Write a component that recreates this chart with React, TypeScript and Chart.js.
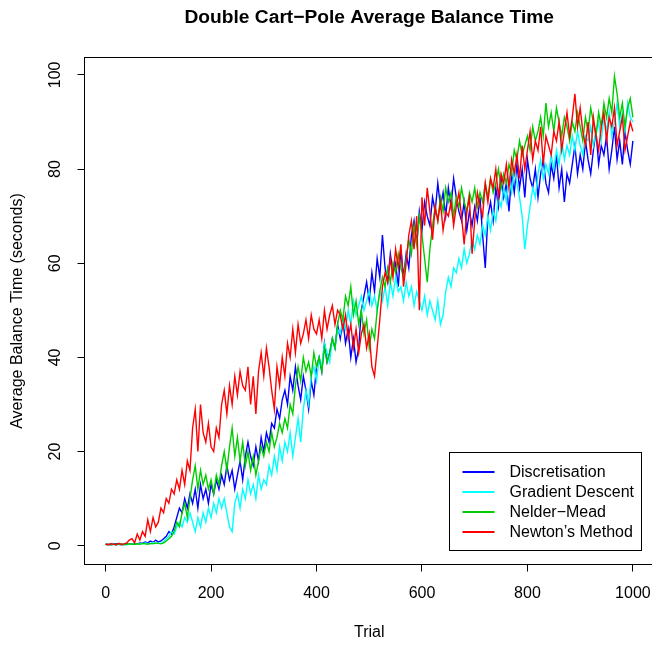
import React, { useEffect, useRef } from "react";
import { Chart, registerables } from "chart.js";

Chart.register(...registerables);

// Trials are sampled every 5 steps: 0, 5, 10, ... 1000
const trialStep = 5;

const discretisation = [
  0.3, 0.3, 0.2, 0.3, 0.4, 0.3, 0.2, 0.3, 0.4, 0.3,
  0.3, 0.5, 0.4, 0.6, 0.5, 0.8, 0.6, 1.0, 0.7, 1.2,
  0.8, 1, 1.5, 2, 3, 2.5, 4, 6, 8, 7,
  10, 8, 11, 9, 12, 8, 13, 10, 12, 9,
  13, 11, 14, 12, 15, 13, 17, 14, 16, 12,
  15, 18, 14, 19, 22, 19, 17, 21, 18, 23,
  20, 24, 22, 26, 25, 29, 27, 31, 33, 30,
  36, 33, 38, 34, 31, 36, 33, 29, 35, 32,
  38, 40, 37, 43, 39, 41, 44, 42, 47, 44,
  48, 43, 46, 40, 44, 39, 42, 50, 53, 56,
  52, 58, 54, 61, 57, 66, 59, 56, 62, 58,
  60, 55, 63, 57, 62, 59, 66, 69, 64, 71,
  67, 73, 70, 68, 74, 71, 77, 72, 75, 70,
  76, 72, 78, 74, 71, 69, 73, 67, 71, 68,
  72, 69, 74, 66, 59, 70, 73, 69, 76, 72,
  78, 74, 77, 71, 79, 75, 81, 76, 80, 74,
  82, 78, 76, 80, 74, 79, 82, 77, 75, 81,
  78, 83, 76, 80, 73, 79, 77, 81, 85, 79,
  83, 80, 86, 82, 79, 84, 88, 81, 85, 83,
  87, 80, 84, 89, 82, 86, 81, 88, 84, 81,
  86,
];

const gradientDescent = [
  0.2, 0.3, 0.2, 0.3, 0.2, 0.3, 0.4, 0.3, 0.2, 0.3,
  0.3, 0.4, 0.3, 0.5, 0.4, 0.6, 0.5, 0.4, 0.7, 0.5,
  0.6, 0.5, 0.8, 1.5, 2, 3, 2.5, 4, 5, 4,
  6, 5, 7, 5, 3, 6, 4, 7, 5, 8,
  6, 9, 7, 10, 8, 10, 7, 4, 3, 9,
  11, 8, 12, 10, 14, 11, 13, 10, 15, 12,
  14, 13, 17, 15, 19, 16, 21, 18, 22, 20,
  24, 19, 23, 27, 22, 29, 33, 30, 36, 38,
  35, 40, 38, 43, 41, 39, 44, 42, 46, 45,
  48, 46, 50, 47, 52, 49, 51, 53, 50, 52,
  54, 51, 53, 50, 54, 52, 55, 51, 56, 53,
  57, 54, 55, 52, 56, 53, 55, 51, 54, 52,
  50, 53, 49, 52, 50, 48, 52, 47, 49, 54,
  57, 55, 59, 58, 61, 59, 63, 60, 62, 65,
  63, 66, 64, 68, 66, 70, 67, 71, 69, 74,
  72, 76, 73, 78, 75, 80, 77, 74, 70, 63,
  68, 72, 76, 74, 79, 82, 78, 81, 79, 83,
  80, 84, 81, 86, 82, 85, 83, 87, 84, 88,
  85, 83, 87, 86, 89, 85, 88, 90, 86, 91,
  88, 92, 87, 90, 94, 89, 92, 88, 94, 91,
  90,
];

const nelderMead = [
  0.3, 0.2, 0.3, 0.3, 0.2, 0.3, 0.3, 0.2, 0.3, 0.4,
  0.3, 0.3, 0.4, 0.3, 0.5, 0.4, 0.3, 0.5, 0.4, 0.6,
  0.5, 0.4, 0.6, 1, 1.5, 2, 3, 5, 4, 7,
  9, 6, 10, 14, 17, 12, 16, 13, 15, 12,
  14, 11, 15, 13, 17, 20, 16, 21, 25, 19,
  23, 18, 22, 17, 20, 16, 19, 15, 18, 21,
  19, 22, 20, 24, 21, 23, 26, 24, 27, 25,
  30, 28, 34, 38, 35, 40, 37, 39, 36, 41,
  38, 40, 37, 42, 39, 41, 44, 42, 47, 50,
  48, 53, 51, 55, 49, 52, 47, 50, 45, 48,
  42, 46, 44, 50, 54, 57, 55, 59, 56, 60,
  58, 62, 59, 57, 61, 65, 62, 68, 64, 70,
  66, 61, 56, 63, 68, 72, 69, 74, 71, 76,
  73, 75, 70, 74, 72, 76, 73, 71, 75, 73,
  76, 72, 75, 73, 77, 74, 78, 75, 77, 80,
  76, 79, 77, 81, 79, 84, 82, 86, 83, 85,
  87, 84, 89, 86, 88, 91, 87, 94, 89, 92,
  88, 93, 90, 87, 91, 89, 86, 90, 88, 92,
  89, 86, 91, 88, 93, 90, 87, 92, 89, 94,
  91, 95, 92, 99.7, 96, 91, 94, 89, 93, 95,
  91,
];

const newtonsMethod = [
  0.3, 0.2, 0.4, 0.3, 0.2, 0.5, 0.3, 0.4, 0.6, 1.2,
  1.5, 0.6, 2.5, 1.2, 3.0, 2.0, 5.5, 3.0, 6.0, 4.0,
  5, 8, 7, 10, 9, 12, 11, 14, 12, 16,
  13, 18, 16, 25, 29, 20, 30, 24, 22, 26,
  21, 20, 25, 23, 30, 33, 28, 34, 30, 36,
  32, 37, 34, 33, 38, 30, 36, 28, 37, 41,
  36, 42, 38, 33, 29, 38, 34, 40, 36, 43,
  40, 46, 41, 47, 43, 45, 48, 44, 49, 46,
  45, 48, 44, 50, 46, 49, 51, 47, 50, 49,
  46, 49, 44, 47, 42, 46, 41, 45, 47, 42,
  45, 38, 36, 42, 48, 55, 58, 56, 61, 57,
  63, 59, 64, 55, 60, 66, 69, 63, 70, 50,
  74, 68, 76, 71, 65, 72, 69, 73, 67, 71,
  70, 73, 68, 72, 75, 70, 64, 71, 74, 62,
  69, 75, 72, 70, 77, 73, 78, 76, 80, 74,
  79, 77, 81, 76, 82, 79, 83, 78, 85, 80,
  84, 88, 82, 86, 84, 89, 81, 87, 85, 83,
  88, 86, 90, 84, 88, 92, 87, 91, 96, 89,
  93, 88, 85, 90, 83, 91, 87, 84, 89, 92,
  86, 91, 89, 93, 85, 88, 91, 84, 87, 90,
  88,
];

const seriesNames = ["Discretisation", "Gradient Descent", "Nelder\u2212Mead", "Newton\u2019s Method"];
const seriesValues = [discretisation, gradientDescent, nelderMead, newtonsMethod];
const seriesColors = ["#0000FF", "#00FFFF", "#00CD00", "#FF0000"];

const xTicks = [0, 200, 400, 600, 800, 1000];
const yTicks = [0, 20, 40, 60, 80, 100];

const chartTitle = "Double Cart\u2212Pole Average Balance Time";
const xTitle = "Trial";
const yTitle = "Average Balance Time (seconds)";

const FONT = "'Liberation Sans', Arial, Helvetica, sans-serif";

const boxPlugin = {
  id: "rBox",
  afterDatasetsDraw(chart: any) {
    const { ctx, chartArea: ca } = chart;
    ctx.save();
    ctx.strokeStyle = "#000";
    ctx.lineWidth = 1;
    ctx.strokeRect(ca.left, ca.top, ca.right - ca.left, ca.bottom - ca.top);
    ctx.restore();
  },
};

const legendPlugin = {
  id: "rLegend",
  afterDraw(chart: any) {
    const { ctx, chartArea: ca } = chart;
    const right = Math.round(ca.right - 13.5) + 0.5;
    const bottom = Math.round(ca.bottom - 15) + 0.5;
    const left = right - 192;
    const top = bottom - 98;
    ctx.save();
    ctx.fillStyle = "#fff";
    ctx.fillRect(left, top, right - left, bottom - top);
    ctx.strokeStyle = "#000";
    ctx.lineWidth = 1;
    ctx.strokeRect(left, top, right - left, bottom - top);
    ctx.font = `16px ${FONT}`;
    ctx.textBaseline = "middle";
    ctx.textAlign = "left";
    seriesNames.forEach((name, i) => {
      const y = top + 19.5 + i * 20;
      ctx.strokeStyle = seriesColors[i];
      ctx.lineWidth = 2;
      ctx.beginPath();
      ctx.moveTo(left + 13, y);
      ctx.lineTo(left + 45, y);
      ctx.stroke();
      ctx.fillStyle = "#000";
      ctx.fillText(name, left + 60, y + 0.5);
    });
    ctx.restore();
  },
};

export default function App() {
  const canvasRef = useRef<HTMLCanvasElement | null>(null);

  useEffect(() => {
    if (!canvasRef.current) return;
    const datasets = seriesValues.map((vals, i) => ({
      label: seriesNames[i],
      data: vals.map((v, j) => ({ x: j * trialStep, y: v })),
      borderColor: seriesColors[i],
      backgroundColor: seriesColors[i],
      borderWidth: 1.4,
      pointRadius: 0,
      fill: false,
      tension: 0,
      order: seriesValues.length - i,
    }));

    const chart = new Chart(canvasRef.current, {
      type: "line",
      data: { datasets },
      plugins: [boxPlugin, legendPlugin],
      options: {
        animation: false,
        responsive: false,
        devicePixelRatio: 1,
        layout: { padding: { left: 0, right: 2, top: 0, bottom: 0 } },
        plugins: {
          legend: { display: false },
          tooltip: { enabled: false },
          title: {
            display: true,
            text: chartTitle,
            fullSize: false,
            color: "#000",
            font: { size: 19.2, weight: "bold", family: FONT },
            padding: { top: 6, bottom: 28.46 },
          },
        },
        scales: {
          x: {
            type: "linear",
            min: -40,
            max: 1040,
            afterBuildTicks: (s: any) => {
              s.ticks = xTicks.map((v) => ({ value: v }));
            },
            afterFit: (s: any) => {
              s.height = 80.5;
              s.paddingLeft = 0;
              s.paddingRight = 0;
            },
            border: { display: false },
            grid: { drawOnChartArea: false, drawTicks: true, tickLength: 7, color: "#000", lineWidth: 1 },
            ticks: {
              color: "#000",
              padding: 12,
              maxRotation: 0,
              autoSkip: false,
              font: { size: 16, family: FONT },
              callback: (v: any) => String(v),
            },
            title: {
              display: true,
              text: xTitle,
              color: "#000",
              font: { size: 16, family: FONT },
              padding: { top: 0, bottom: 2.4 },
            },
          },
          y: {
            type: "linear",
            min: -3.99,
            max: 103.7,
            afterBuildTicks: (s: any) => {
              s.ticks = yTicks.map((v) => ({ value: v }));
            },
            afterFit: (s: any) => {
              s.width = 84.5;
              s.paddingTop = 0;
              s.paddingBottom = 0;
            },
            border: { display: false },
            grid: { drawOnChartArea: false, drawTicks: true, tickLength: 7, color: "#000", lineWidth: 1 },
            ticks: {
              color: "#000",
              padding: 9,
              minRotation: 90,
              maxRotation: 90,
              crossAlign: "center",
              autoSkip: false,
              font: { size: 16, family: FONT },
              callback: (v: any) => String(v),
            },
            title: {
              display: true,
              text: yTitle,
              color: "#000",
              font: { size: 16, family: FONT },
              padding: { top: 8.4, bottom: 0 },
            },
          },
        },
      } as any,
    });
    return () => chart.destroy();
  }, []);

  return (
    <div
      style={{
        position: "fixed",
        left: 0,
        top: 0,
        width: 652,
        height: 645,
        overflow: "hidden",
        background: "#fff",
      }}
    >
      <canvas
        ref={canvasRef}
        width={656}
        height={645}
        style={{ display: "block", width: 656, height: 645 }}
      />
    </div>
  );
}
